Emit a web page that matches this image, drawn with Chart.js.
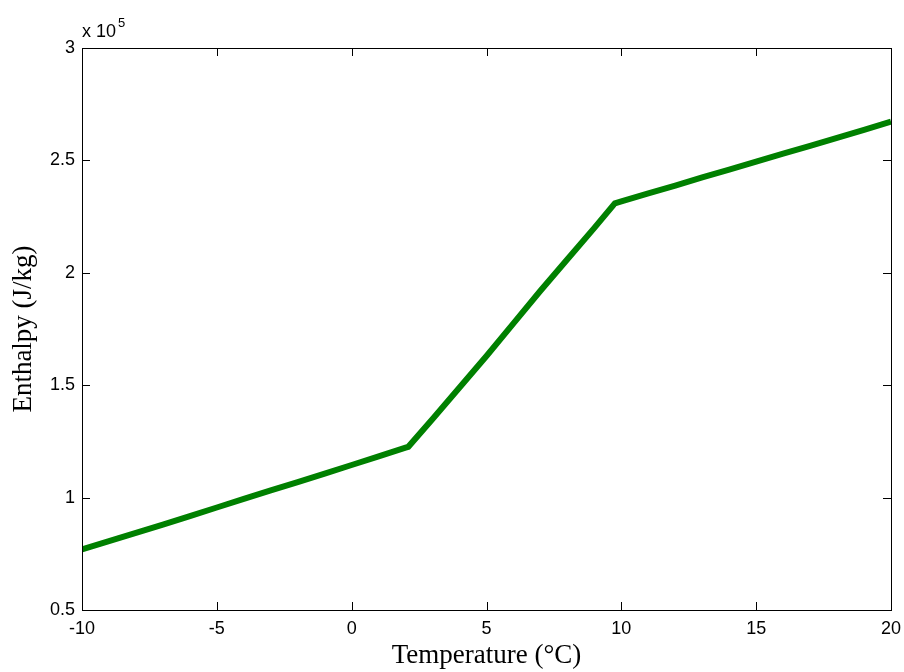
<!DOCTYPE html>
<html>
<head>
<meta charset="utf-8">
<title>Enthalpy vs temperature</title>
<script src="https://cdn.jsdelivr.net/npm/chart.js@4/dist/chart.umd.min.js"></script>
<style>
    html, body { margin: 0; padding: 0; background: #fff; }
    #wrap { width: 904px; height: 672px; }
</style>
</head>
<body>
<div id="wrap"><canvas id="enthalpyChart" width="904" height="672"></canvas></div>
<script>
// Values
const temperatures = [-10, -9, -8, -7, -6, -5, -4, -3, -2, -1, 0, 1, 2, 2.1,
    3, 4, 5, 6, 7, 8, 9, 9.76, 10, 11, 12, 13, 14, 15, 16, 17, 18, 19, 20];
const enthalpies = [77000, 80600, 84300, 88000, 91800, 95600, 99400, 103200, 106900, 110700,
    114500, 118300, 122200, 122600, 135000, 149000, 163000, 177500, 192000, 206000,
    220000, 230900, 231800, 235300, 238800, 242400, 245900, 249500, 253000, 256500,
    260000, 263600, 267200];
const xTicks = [-10, -5, 0, 5, 10, 15, 20];
const yTicks = [50000, 100000, 150000, 200000, 250000, 300000];

const points = temperatures.map((t, i) => ({ x: t, y: enthalpies[i] }));

// Box, inward tick marks and the exponent label, matlab style
const framePlugin = {
    id: 'frame',
    afterDraw(chart) {
        const ctx = chart.ctx;
        const area = chart.chartArea;
        const xs = chart.scales.x;
        const ys = chart.scales.y;
        const tickLen = 8;

        ctx.save();
        ctx.strokeStyle = '#000';
        ctx.lineWidth = 1;
        ctx.beginPath();
        xTicks.forEach(v => {
            const px = Math.round(xs.getPixelForValue(v)) + 0.5;
            ctx.moveTo(px, area.bottom);
            ctx.lineTo(px, area.bottom - tickLen);
            ctx.moveTo(px, area.top);
            ctx.lineTo(px, area.top + tickLen);
        });
        yTicks.forEach(v => {
            const py = Math.round(ys.getPixelForValue(v)) + 0.5;
            ctx.moveTo(area.left, py);
            ctx.lineTo(area.left + tickLen, py);
            ctx.moveTo(area.right, py);
            ctx.lineTo(area.right - tickLen, py);
        });
        ctx.stroke();
        ctx.strokeRect(Math.round(area.left) + 0.5, Math.round(area.top) + 0.5,
            Math.round(area.right - area.left), Math.round(area.bottom - area.top));

        // "x 10^5"
        ctx.fillStyle = '#000';
        ctx.textBaseline = 'alphabetic';
        ctx.textAlign = 'left';
        ctx.font = '18px "Liberation Sans", Arial, sans-serif';
        const base = 'x 10';
        ctx.fillText(base, area.left, area.top - 11);
        const w = ctx.measureText(base).width;
        ctx.font = '13px "Liberation Sans", Arial, sans-serif';
        ctx.fillText('5', area.left + w + 2, area.top - 21);
        ctx.restore();
    }
};

const tickFont = { family: '"Liberation Sans", Arial, sans-serif', size: 18 };
const titleFont = { family: '"Liberation Serif", "Times New Roman", serif', size: 27 };

new Chart(document.getElementById('enthalpyChart'), {
    type: 'line',
    data: {
        datasets: [{
            data: points,
            borderColor: 'rgb(0, 128, 0)',
            borderWidth: 6,
            pointRadius: 0,
            fill: false,
            tension: 0
        }]
    },
    options: {
        responsive: false,
        animation: false,
        devicePixelRatio: 1,
        layout: { padding: { left: 0, top: 48, right: 13, bottom: 0 } },
        plugins: {
            legend: { display: false },
            tooltip: { enabled: false }
        },
        scales: {
            x: {
                type: 'linear',
                min: -10,
                max: 20,
                afterBuildTicks: scale => { scale.ticks = xTicks.map(v => ({ value: v })); },
                afterFit: scale => {
                    scale.height = 62;
                    scale.paddingLeft = 0;
                    scale.paddingRight = 0;
                },
                grid: { display: false, drawTicks: false },
                border: { display: false },
                ticks: {
                    color: '#000',
                    font: tickFont,
                    padding: 8,
                    maxRotation: 0,
                    callback: v => String(v)
                },
                title: {
                    display: true,
                    text: 'Temperature (°C)',
                    color: '#000',
                    font: titleFont,
                    padding: { top: 0, bottom: 0 }
                }
            },
            y: {
                type: 'linear',
                min: 50000,
                max: 300000,
                afterBuildTicks: scale => { scale.ticks = yTicks.map(v => ({ value: v })); },
                afterFit: scale => {
                    scale.width = 82;
                    scale.paddingTop = 0;
                    scale.paddingBottom = 0;
                },
                grid: { display: false, drawTicks: false },
                border: { display: false },
                ticks: {
                    color: '#000',
                    font: tickFont,
                    padding: 7,
                    callback: v => String(v / 100000)
                },
                title: {
                    display: true,
                    text: 'Enthalpy (J/kg)',
                    color: '#000',
                    font: titleFont,
                    padding: { top: 8, bottom: 0 }
                }
            }
        }
    },
    plugins: [framePlugin]
});
</script>
</body>
</html>
